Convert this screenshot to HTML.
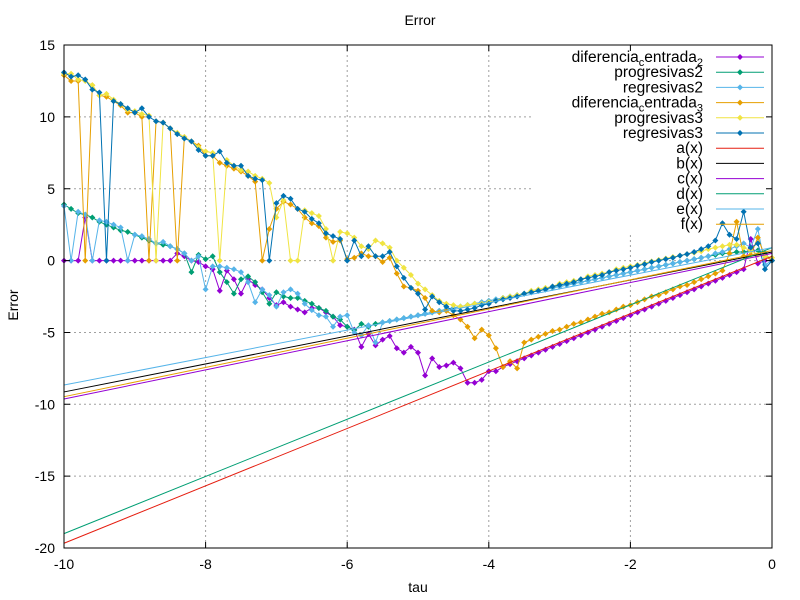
<!DOCTYPE html>
<html><head><meta charset="utf-8"><style>
body{margin:0;background:#fff}
svg{display:block;font-family:"Liberation Sans",sans-serif}
</style></head><body>
<svg id="chart" width="800" height="600" viewBox="0 0 800 600" xmlns="http://www.w3.org/2000/svg">
<rect width="800" height="600" fill="#fff"/>
<g id="grid"></g>
<rect x="531" y="46" width="240" height="186" fill="#fff"/>
<g id="series"></g>
<g id="axes"></g>
<g id="legend"></g>
<text x="420" y="25" font-size="14" text-anchor="middle">Error</text>
<text x="418" y="592" font-size="14" text-anchor="middle">tau</text>
<text x="18" y="305" font-size="14" text-anchor="middle" transform="rotate(-90 18 305)">Error</text>
</svg>
<script>
const tauStart = -10, tauStep = 0.1;
const xTicks = [-10,-8,-6,-4,-2,0];
const yTicks = [-20,-15,-10,-5,0,5,10,15];

const difCentrada2 = [0,0,0,3.0,0,0,0,0,0,0,0,0,0,0,0,0,
0.5,0.3,0.0,-0.1,-0.4,-0.6,-2.1,-0.7,-1.3,-2.3,-1.3,-1.7,-2.0,-2.6,-3.1,-2.9,-3.2,-3.4,-3.6,-3.3,-3.3,-3.6,-3.9,-4.5,-4.6,-4.8,-6.0,-5.1,
-5.9,-5.5,-5.25,-6.1,-6.4,-6.0,-6.4,-8.0,-6.8,-7.4,-7.3,-7.1,-7.5,-8.5,-8.5,-8.3,-7.7,-7.7,-7.4,
-7.2,-7.0,-6.8,-6.6,-6.4,-6.2,-6.0,-5.8,-5.6,-5.4,-5.2,-5.0,-4.8,-4.6,-4.4,-4.2,-4.0,-3.8,-3.6,-3.4,-3.2,-3.0,-2.8,-2.6,-2.4,-2.2,-2.0,-1.8,-1.6,-1.4,-1.2,-1.0,-0.8,-0.6,1.5,-0.2,0.0,0.0];

const progresivas2 = [3.9,3.6,3.3,3.2,3.0,2.7,2.5,2.3,2.1,2.0,1.8,1.6,1.4,1.2,1.1,1.0,0.8,0.5,-0.8,0.4,0.1,0.3,-0.8,-1.5,-2.3,-1.3,-1.1,-1.5,-2.2,-3.0,-2.2,-2.5,-2.6,-2.6,-2.8,-3.0,-3.3,-3.5,-3.9,-4.1,-4.6,-4.85,-4.4,-4.6,
-4.4,-4.3,-4.2,-4.1,-4.0,-3.9,-3.8,-3.7,-3.6,-3.5,-3.4,-3.3,-3.2,-3.1,-3.0,-2.9,-2.8,-2.7,-2.6,-2.5,-2.4,-2.3,-2.2,-2.1,-2.0,-1.9,-1.8,-1.7,-1.6,-1.5,-1.4,-1.3,-1.2,-1.1,-1.0,-0.9,-0.8,-0.7,-0.6,-0.5,-0.4,-0.3,-0.2,-0.1,0.0,0.1,0.2,
0.3,0.4,0.5,0.5,0.6,0.6,0.7,0.7,0.5,0.0];

const regresivas2 = [3.8,0.0,3.4,3.2,0.0,2.8,2.7,2.5,2.3,0.0,1.8,1.7,1.5,1.2,1.3,1.0,0.8,0.5,0.0,0.3,-2.0,-0.4,-0.4,-0.5,-0.6,-0.8,-1.5,-2.9,-2.0,-2.4,-3.2,-2.2,-2.0,-2.3,-3.0,-3.45,-3.8,-3.9,-4.6,-3.9,-3.8,-5.0,-5.2,-4.5,-5.7,-4.3,
-4.2,-4.1,-4.0,-3.9,-3.8,-3.7,-3.6,-3.5,-3.4,-3.3,-3.2,-3.1,-3.0,-2.9,-2.8,-2.7,-2.6,-2.5,-2.4,-2.3,-2.2,-2.1,-2.0,-1.9,-1.8,-1.7,-1.6,-1.5,-1.4,-1.3,-1.2,-1.1,-1.0,-0.9,-0.8,-0.7,-0.6,-0.5,-0.4,-0.3,-0.2,-0.1,0.0,0.1,0.2,
0.3,0.5,0.6,0.8,1.0,1.2,0.9,2.2,-0.3,0.0];

const difCentrada3 = [12.9,12.5,12.5,0.0,12.2,11.5,11.4,11.1,10.8,10.3,10.3,10.0,0.0,9.7,9.6,9.2,0.0,8.6,8.3,8.0,7.3,7.3,6.8,6.6,6.4,6.2,5.9,5.5,0.0,2.2,3.6,4.1,3.9,3.6,3.0,2.6,2.4,1.6,1.3,1.4,0.1,0.2,0.5,0.3,0.3,-0.1,0.2,-0.9,-1.8,-1.9,-2.1,-2.6,-3.5,-3.6,-3.5,-3.8,-4.1,-4.6,-5.4,-4.8,-5.2,-6.1,-7.4,-7.0,-7.5,-5.7,
-5.5,-5.3,-5.1,-4.9,-4.8,-4.6,-4.4,-4.3,-4.1,-3.9,-3.7,-3.6,-3.4,-3.2,-3.1,-2.9,-2.7,-2.5,-2.4,-2.2,-2.0,-1.8,-1.7,-1.5,-1.3,-1.1,-0.9,-0.7,0.5,2.7,0.3,0.4,1.6,0.3,0.0];

const progresivas3 = [13.0,13.0,12.6,12.5,12.2,11.5,11.6,11.2,10.9,10.5,10.4,10.2,10.1,0.0,9.6,9.2,8.9,8.6,8.3,7.9,7.6,7.5,0.0,7.0,6.6,6.3,6.2,5.9,5.7,5.4,3.0,4.2,0.0,0.0,3.5,3.3,3.1,2.2,0.0,2.0,1.9,1.6,1.0,0.8,1.4,1.2,0.9,0.0,-0.5,-1.0,-1.6,-2.0,-2.4,-2.8,-3.0,-3.1,-3.2,-3.1,-3.0,
-3.0,-2.9,-2.8,-2.6,-2.5,-2.4,-2.3,-2.1,-2.0,-1.9,-1.8,-1.6,-1.5,-1.4,-1.3,-1.1,-1.0,-0.9,-0.8,-0.6,-0.5,-0.4,-0.3,-0.2,-0.05,0.05,0.15,0.25,0.35,0.45,0.55,0.65,0.8,0.9,1.0,1.1,1.1,0.9,0.7,0.4,0.3,0.2];

const regresivas3 = [13.1,12.8,12.9,12.6,11.9,11.7,0.0,11.1,10.9,10.6,10.3,10.6,10.0,9.7,9.6,9.2,8.8,8.5,8.3,7.7,7.3,7.3,7.6,6.8,6.6,6.6,5.9,5.7,5.6,0.0,4.0,4.5,4.3,3.6,3.4,2.9,2.6,1.9,1.7,1.5,0.0,1.4,0.3,1.0,0.3,0.3,0.6,-0.4,-1.2,-1.9,-2.3,-3.4,-2.5,-2.9,-3.2,-3.5,-3.5,-3.4,-3.3,-3.1,
-3.0,-2.8,-2.7,-2.6,-2.5,-2.3,-2.2,-2.1,-2.0,-1.8,-1.7,-1.6,-1.5,-1.3,-1.2,-1.1,-1.0,-0.8,-0.7,-0.6,-0.5,-0.35,-0.25,-0.1,0.0,0.1,0.2,0.35,0.45,0.6,0.8,1.0,1.4,2.6,1.8,1.5,3.4,0.9,1.2,-0.6,0.0];

// fitted lines: values at tau = -10 and tau = 0
const lineA = [-19.67, 0.3];
const lineB = [-9.14, 0.6];
const lineC = [-9.63, 0.5];
const lineD = [-19.0, 0.9];
const lineE = [-8.66, 0.9];
const lineF = [-9.47, 0.7];

const NS = 'http://www.w3.org/2000/svg';
const X = v => 64 + (v + 10) * 70.8;
const Y = v => 260.6 - v * 14.37;
function mk(tag, attrs, parent){const e=document.createElementNS(NS,tag);for(const k in attrs)e.setAttribute(k,attrs[k]);parent.appendChild(e);return e;}

const grid=document.getElementById('grid'), axes=document.getElementById('axes'), series=document.getElementById('series'), legend=document.getElementById('legend');
xTicks.forEach(t=>{
  if(t>-10 && t<0){const g=mk('line',{x1:X(t),x2:X(t),y1:45,y2:548,stroke:'#a0a0a0','stroke-dasharray':'2,3'},grid);
  
  }
  const tk=mk('path',{d:`M${X(t)},548v-6M${X(t)},45v6`,stroke:'#000'},axes);
  
  
  const lb=mk('text',{x:X(t),y:569,'font-size':14,'text-anchor':'middle'},axes);lb.textContent=t;
  
  
});
yTicks.forEach(t=>{
  if(t>-20 && t<15){const g=mk('line',{x1:64,x2:772,y1:Y(t),y2:Y(t),stroke:'#a0a0a0','stroke-dasharray':'2,3'},grid);
  
  }
  const tk=mk('path',{d:`M64,${Y(t)}h6M772,${Y(t)}h-6`,stroke:'#000'},axes);
  
  
  const lb=mk('text',{x:55,y:Y(t)+5,'font-size':14,'text-anchor':'end'},axes);lb.textContent=t;
  
  
});
const frame=mk('rect',{x:64,y:45,width:708,height:503,fill:'none',stroke:'#000'},axes);



const dataSeries=[
 ['diferencia-centrada-2',difCentrada2,'#9400d3'],
 ['progresivas2',progresivas2,'#009e73'],
 ['regresivas2',regresivas2,'#56b4e9'],
 ['diferencia-centrada-3',difCentrada3,'#e69f00'],
 ['progresivas3',progresivas3,'#f0e442'],
 ['regresivas3',regresivas3,'#0072b2']];
const fitLines=[['a-x',lineA,'#e51e10'],['b-x',lineB,'#000000'],['c-x',lineC,'#9400d3'],['d-x',lineD,'#009e73'],['e-x',lineE,'#56b4e9'],['f-x',lineF,'#e69f00']];

function diamond(cx,cy,r){return `M${cx},${cy-r}L${cx+r},${cy}L${cx},${cy+r}L${cx-r},${cy}Z`;}
dataSeries.forEach(([name,vals,col])=>{
  const g=mk('g',{},series);
  
  
  const pts=vals.map((v,i)=>[X(tauStart+i*tauStep),Y(v)]);
  const pl=mk('polyline',{points:pts.map(p=>p.join(',')).join(' '),fill:'none',stroke:col,'stroke-width':1},g);
  
  
  let d='';pts.forEach(p=>{d+=diamond(p[0],p[1],3);});
  const m=mk('path',{d:d,fill:col},g);
  
  
});
fitLines.forEach(([name,ends,col])=>{
  const l=mk('line',{x1:X(-10),y1:Y(ends[0]),x2:X(0),y2:Y(ends[1]),stroke:col,'stroke-width':1},series);
  
  
});

const legendLabels=[['diferencia','c','entrada','2'],['progresivas2'],['regresivas2'],['diferencia','c','entrada','3'],['progresivas3'],['regresivas3'],['a(x)'],['b(x)'],['c(x)'],['d(x)'],['e(x)'],['f(x)']];
const legendColors=['#9400d3','#009e73','#56b4e9','#e69f00','#f0e442','#0072b2','#e51e10','#000000','#9400d3','#009e73','#56b4e9','#e69f00'];
legendLabels.forEach((lab,i)=>{
  const y=57+i*15.2;
  const g=mk('g',{},legend);
  
  
  const t=mk('text',{x:703,y:y+5,'font-size':15.5,'text-anchor':'end'},g);
  if(lab.length===1){t.textContent=lab[0];}
  else{
    const parts=[[lab[0],0],[lab[1],4],[lab[2],-4],[lab[3],4]];
    parts.forEach(([s,dy])=>{const ts=document.createElementNS(NS,'tspan');ts.setAttribute('dy',dy);if(dy>0)ts.setAttribute('font-size','11');ts.textContent=s;t.appendChild(ts);});
  }
  mk('line',{x1:716,x2:764,y1:y,y2:y,stroke:legendColors[i]},g);
  if(i<6) mk('path',{d:diamond(740,y,3),fill:legendColors[i]},g);
});
</script>
</body></html>
